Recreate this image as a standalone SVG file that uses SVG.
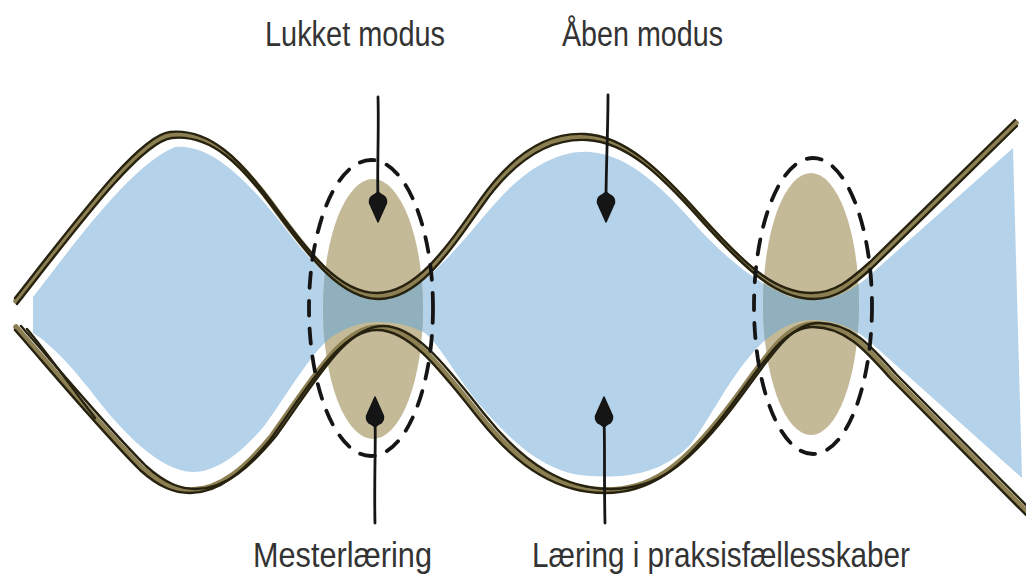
<svg xmlns="http://www.w3.org/2000/svg" width="1026" height="579" viewBox="0 0 1026 579">
<defs>
<style>
.lbl{font-family:"Liberation Sans",Arial,sans-serif;font-size:35px;fill:#333;}
.band{fill:none;stroke:#8c7f52;stroke-width:5.5;stroke-linecap:round;stroke-linejoin:round;}
.strand{fill:none;stroke:#26220f;stroke-width:2.4;stroke-linecap:round;stroke-linejoin:round;}
.dash{fill:none;stroke:#151515;stroke-width:3.8;stroke-dasharray:15 13;stroke-linecap:round;}
.arr{fill:none;stroke:#151515;stroke-width:2.8;stroke-linecap:round;}
.head{fill:#151515;stroke:#151515;stroke-width:1.5;stroke-linejoin:round;}
</style>
<path id="blueShape" d="M33,297 C70,250 130,165 175,147 C215,143 255,190 285,228 C305,255 325,275 340,285 C355,295 365,300 377,300 C392,300 405,293 420,283 C440,268 460,245 485,215 C520,172 555,150 590,152 C630,155 665,190 700,230 C730,262 760,285 790,297 C800,300 820,300 835,297 C845,293 860,285 870,275 L1013,148 L1022,478 L868,340 C850,325 830,320 813,320 C795,320 778,328 760,345 C730,375 710,420 690,445 C660,475 625,478 590,476 C545,474 510,440 480,405 C455,375 440,345 425,333 C410,325 395,322 377,322 C360,322 345,328 330,338 C310,355 290,390 265,425 C240,455 215,472 193,472 C160,472 120,430 90,390 C65,358 45,340 33,333 Z"/>
<path id="topLine" d="M15,298 C80,215 140,135 170,132 C210,128 240,160 270,200 C310,255 340,293 377,293 C415,293 445,250 480,200 C515,150 550,132 585,134 C625,136 660,170 700,215 C745,265 775,293 812,293 C835,293 850,280 870,262 L1015,120"/>
<path id="botLine" d="M15,330 C50,370 100,430 140,470 C160,488 175,493 190,493 C220,493 245,470 270,440 C310,385 340,330 377,330 C410,330 440,370 480,420 C520,470 560,493 605,493 C650,493 680,470 720,420 C760,370 780,327 813,327 C845,327 865,350 890,378 L1026,515"/>
<path id="headDown" class="head" d="M0,0 L-8.5,-19 Q-9,-25 -4,-27 L0,-30 L4,-27 Q9,-25 8.5,-19 Z"/>
<clipPath id="ellClip">
<ellipse cx="373" cy="309" rx="50" ry="130"/>
<ellipse cx="811" cy="304" rx="48" ry="131"/>
</clipPath>
</defs>
<rect width="1026" height="579" fill="#fff"/>

<g id="flow-fill">
<use href="#blueShape" fill="#b4d2ea"/>
</g>

<g id="mesterlaering-node">
<ellipse cx="373" cy="309" rx="50" ry="130" fill="#c4ba98"/>
</g>
<g id="praksis-node">
<ellipse cx="811" cy="304" rx="48" ry="131" fill="#c4ba98"/>
</g>
<g id="overlap">
<use href="#blueShape" fill="#8fb0bc" clip-path="url(#ellClip)"/>
</g>

<g id="flow-lines">
<use href="#topLine" class="band" transform="translate(1,3)"/>
<use href="#topLine" class="strand"/>
<use href="#topLine" class="strand" transform="translate(2,6)"/>
<use href="#botLine" class="band" transform="translate(1,-3)"/>
<use href="#botLine" class="strand"/>
<use href="#botLine" class="strand" transform="translate(6,-4)"/>
<path class="strand" d="M27,329 C45,350 70,385 95,418"/>
</g>

<g id="dashed-boundaries">
<ellipse cx="371" cy="308" rx="62" ry="148" class="dash"/>
<ellipse cx="813" cy="306" rx="59" ry="148" class="dash"/>
</g>

<g id="connectors">
<path class="arr" d="M378,97 C379,130 377,170 378,200"/>
<use href="#headDown" transform="translate(378,222)"/>
<path class="arr" d="M375,523 C374,480 376,440 375,420"/>
<use href="#headDown" transform="translate(375,397) rotate(180)"/>
<path class="arr" d="M608,95 C608,130 606,170 606,200"/>
<use href="#headDown" transform="translate(606,222)"/>
<path class="arr" d="M605,523 C604,480 605,440 604,420"/>
<use href="#headDown" transform="translate(604,397) rotate(180)"/>
</g>

<g id="labels">
<text class="lbl" x="265" y="46" textLength="180" lengthAdjust="spacingAndGlyphs">Lukket modus</text>
<text class="lbl" x="562" y="46" textLength="161" lengthAdjust="spacingAndGlyphs">Åben modus</text>
<text class="lbl" x="253" y="567" textLength="179" lengthAdjust="spacingAndGlyphs">Mesterlæring</text>
<text class="lbl" x="532" y="567" textLength="378" lengthAdjust="spacingAndGlyphs">Læring i praksisfællesskaber</text>
</g>
</svg>
